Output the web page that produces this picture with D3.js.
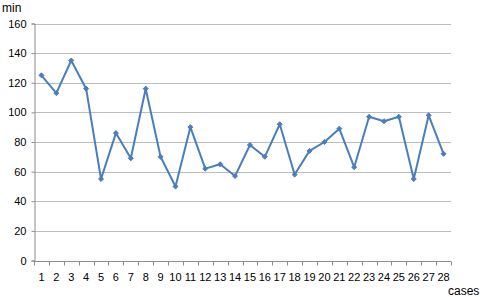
<!DOCTYPE html>
<html>
<head>
<meta charset="utf-8">
<script src="https://cdn.jsdelivr.net/npm/d3@7"></script>
<style>
  body { margin: 0; background: #fff; }
  text { font-family: "Liberation Sans", Arial, sans-serif; fill: #000; }
</style>
</head>
<body>
<svg id="chart" width="480" height="297"></svg>
<script>
  'use strict';

  var cases = d3.range(1, 29);
  var minutes = [125, 113, 135, 116, 55, 86, 69, 116, 70, 50, 90, 62, 65, 57,
                 78, 70, 92, 58, 74, 80, 89, 63, 97, 94, 97, 55, 98, 72];
  var yTicks = [0, 20, 40, 60, 80, 100, 120, 140, 160];

  (function () {
    var svg = d3.select('#chart');
    var left = 34, right = 451, plotTop = 23.5, bottom = 260.5;

    var x = d3.scaleBand().domain(cases).range([left, right]);
    var y = d3.scaleLinear().domain([0, 160]).range([bottom, plotTop]);

    // gridlines
    svg.append('g')
      .selectAll('line')
      .data(yTicks.slice(1))
      .enter()
      .append('line')
      .attr('x1', left).attr('x2', right)
      .attr('y1', function (d) { return Math.round(y(d)) + 0.5; })
      .attr('y2', function (d) { return Math.round(y(d)) + 0.5; })
      .attr('stroke', '#bdbdbd')
      .attr('stroke-width', 1);

    // y axis
    var yAxis = svg.append('g')
      .attr('transform', 'translate(' + (left + 0.5) + ',0)')
      .call(d3.axisLeft(y).tickValues(yTicks).tickSize(3).tickPadding(5));
    yAxis.select('.domain').attr('stroke', '#8c8c8c');
    yAxis.selectAll('.tick line').attr('stroke', '#8c8c8c');
    yAxis.selectAll('.tick text').style('font-size', '11px');

    // x axis, ticks between categories
    var xg = svg.append('g')
      .attr('transform', 'translate(0,' + (Math.round(bottom) + 0.5) + ')');
    xg.append('line')
      .attr('x1', left).attr('x2', right)
      .attr('stroke', '#8c8c8c');
    xg.selectAll('line.tk')
      .data(cases.concat([29]))
      .enter()
      .append('line')
      .attr('class', 'tk')
      .attr('x1', function (d, i) { return Math.round(left + i * x.bandwidth()) + 0.5; })
      .attr('x2', function (d, i) { return Math.round(left + i * x.bandwidth()) + 0.5; })
      .attr('y1', 0).attr('y2', 4)
      .attr('stroke', '#8c8c8c');
    xg.selectAll('text')
      .data(cases)
      .enter()
      .append('text')
      .attr('x', function (d) { return x(d) + x.bandwidth() / 2; })
      .attr('y', 19)
      .attr('text-anchor', 'middle')
      .style('font-size', '11px')
      .text(function (d) { return d; });

    // line
    var line = d3.line()
      .x(function (d, i) { return x(cases[i]) + x.bandwidth() / 2; })
      .y(function (d) { return y(d); });

    svg.append('path')
      .datum(minutes)
      .attr('d', line)
      .attr('fill', 'none')
      .attr('stroke', '#4a7ebb')
      .attr('stroke-width', 2)
      .attr('stroke-linejoin', 'round');

    svg.append('g')
      .selectAll('path')
      .data(minutes)
      .enter()
      .append('path')
      .attr('transform', function (d, i) {
        return 'translate(' + (x(cases[i]) + x.bandwidth() / 2) + ',' + y(d) + ')';
      })
      .attr('d', d3.symbol().type(d3.symbolDiamond2).size(16))
      .attr('fill', '#4a7ebb')
      .attr('stroke', '#4a7ebb')
      .attr('stroke-width', 1);

    // axis titles
    svg.append('text')
      .attr('x', 2).attr('y', 12)
      .style('font-size', '12px')
      .text('min');
    svg.append('text')
      .attr('x', 448).attr('y', 295)
      .style('font-size', '12px')
      .text('cases');
  })();
</script>
</body>
</html>
